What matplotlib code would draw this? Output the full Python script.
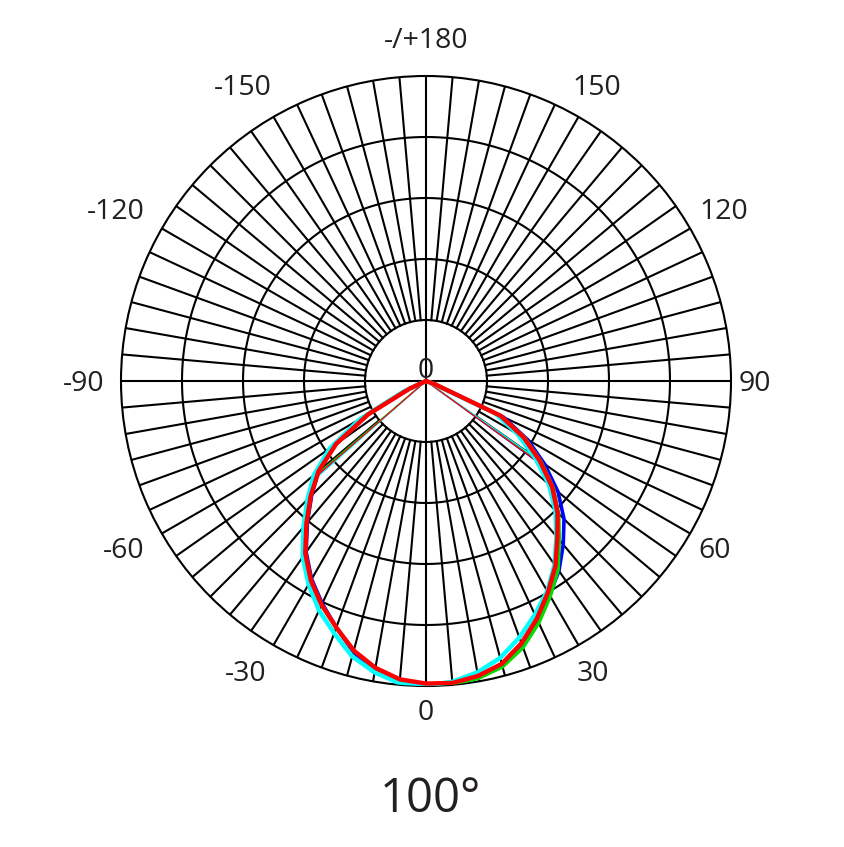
import numpy as np
import matplotlib
matplotlib.use("Agg")
import matplotlib.pyplot as plt

# ---------------- data ----------------
angles_deg = [-90, -85, -80, -75, -70, -65, -60, -55, -50, -45, -40, -35, -30,
              -25, -20, -15, -10, -5, 0, 5, 10, 15, 20, 25, 30, 35, 40, 45,
              50, 55, 60, 65, 70, 75, 80, 85, 90]

blue = [0, 0, 0, 0, 0, 0.06, 0.22, 0.36, 0.46, 0.53, 0.605, 0.685, 0.75, 0.805,
        0.86, 0.92, 0.965, 0.99, 0.997, 0.995, 0.985, 0.962, 0.92, 0.865, 0.81,
        0.76, 0.70, 0.64, 0.565, 0.475, 0.385, 0.28, 0.03, 0, 0, 0, 0]
green = [0, 0, 0, 0, 0, 0.06, 0.22, 0.36, 0.46, 0.535, 0.61, 0.69, 0.755, 0.81,
         0.86, 0.915, 0.958, 0.985, 0.995, 0.997, 0.99, 0.97, 0.93, 0.875, 0.815,
         0.755, 0.68, 0.615, 0.545, 0.46, 0.375, 0.27, 0.03, 0, 0, 0, 0]
cyan = [0, 0, 0, 0, 0, 0.08, 0.25, 0.385, 0.48, 0.55, 0.625, 0.705, 0.77, 0.83,
        0.88, 0.935, 0.97, 0.995, 0.998, 0.99, 0.97, 0.94, 0.895, 0.845, 0.795,
        0.735, 0.665, 0.60, 0.525, 0.435, 0.345, 0.25, 0.02, 0, 0, 0, 0]
red = [0, 0, 0, 0, 0, 0.06, 0.22, 0.36, 0.46, 0.535, 0.61, 0.69, 0.755, 0.81,
       0.86, 0.915, 0.955, 0.982, 0.992, 0.994, 0.982, 0.96, 0.915, 0.86, 0.80,
       0.74, 0.67, 0.61, 0.54, 0.455, 0.37, 0.27, 0.03, 0, 0, 0, 0]

# thin straight segments from the centre (angle, radius) for each series
thin_left = {"blue": (-49, 0.46), "green": (-49.5, 0.455), "cyan": (-48.5, 0.47), "red": (-49, 0.465)}
thin_right = {"blue": (54, 0.475), "green": (54.5, 0.465), "cyan": (55, 0.455), "red": (54.2, 0.47)}

tick_angles = [0, 30, 60, 90, 120, 150, 180, -30, -60, -90, -120, -150]
tick_labels = ["0", "30", "60", "90", "120", "150", "-/+180",
               "-30", "-60", "-90", "-120", "-150"]
title = "100°"

# ---------------- figure ----------------
FONT = ["Open Sans", "DejaVu Sans"]
TXT = "#231f20"
fig = plt.figure(figsize=(8.44, 8.47), dpi=100)
ax = fig.add_axes([121 / 844, 161 / 847, 610 / 844, 610 / 847], projection="polar")
ax.set_theta_zero_location("S")
ax.set_theta_direction(1)
ax.set_ylim(0, 1)
ax.grid(False)
ax.set_xticks([])
ax.set_yticks([])
ax.spines["polar"].set_color("black")
ax.spines["polar"].set_linewidth(1.5)

GRID_LW = 1.5
circ = np.linspace(0, 2 * np.pi, 721)
for rr in [0.2, 0.4, 0.6, 0.8]:
    ax.plot(circ, np.full_like(circ, rr), color="black", lw=GRID_LW, zorder=1)
for a in range(0, 360, 5):
    r0 = 0.0 if a % 90 == 0 else 0.2
    t = np.deg2rad(a)
    ax.plot([t, t], [r0, 1.0], color="black", lw=GRID_LW, zorder=1)

th = np.deg2rad(angles_deg)
series = [("blue", blue, "#0000ff", 2.6), ("green", green, "#00dd00", 2.6),
          ("cyan", cyan, "#00ffff", 3.2), ("red", red, "#ff0000", 3.2)]
for name, vals, col, lw in series:
    for d in (thin_left, thin_right):
        ang, rv = d[name]
        ax.plot([np.deg2rad(ang)] * 2, [0, rv], color=col, lw=0.9, zorder=3)
for i, (name, vals, col, lw) in enumerate(series):
    ax.plot(th, vals, color=col, lw=lw, zorder=4 + i,
            solid_joinstyle="round", solid_capstyle="round")

# angle labels
FS = 20.5
lab_r = {0: 1.079, 30: 1.097, 60: 1.094, 90: 1.079, 120: 1.127, 150: 1.119, 180: 1.125}
for a, lab in zip(tick_angles, tick_labels):
    r = lab_r[abs(a)]
    dx = -13 * 0.72 if a < 0 else 0
    ax.annotate(lab, xy=(np.deg2rad(a), r), xytext=(dx, -10 * 0.72),
                textcoords="offset points", ha="center", va="baseline",
                fontsize=FS, color=TXT, family=FONT, annotation_clip=False)

ax.annotate("0", xy=(0, 0), xytext=(0, (13 - 10) * 0.72), textcoords="offset points",
            ha="center", va="baseline", fontsize=FS, color=TXT, family=FONT, zorder=10)

fig.text(430 / 844, 1 - 812 / 847, title, ha="center", va="baseline",
         fontsize=34, color=TXT, family=FONT)

fig.savefig("out.png", dpi=100, facecolor="white")
